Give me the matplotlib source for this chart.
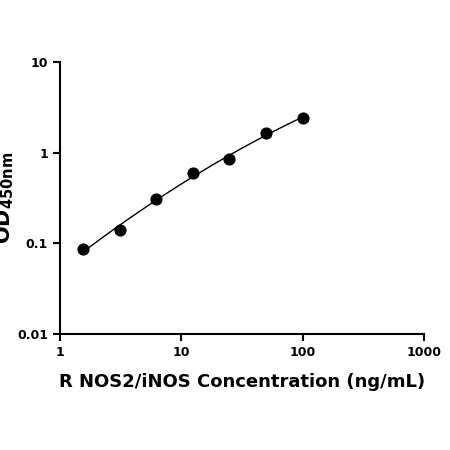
import numpy as np
import matplotlib
matplotlib.use("Agg")
import matplotlib.pyplot as plt

conc = [1.5625, 3.125, 6.25, 12.5, 25, 50, 100]
od = [0.086, 0.14, 0.31, 0.59, 0.86, 1.67, 2.4]
xticks = [1, 10, 100, 1000]
xticklabels = ["1", "10", "100", "1000"]
yticks = [0.01, 0.1, 1, 10]
yticklabels = ["0.01", "0.1", "1", "10"]

fig = plt.figure(figsize=(4.5, 4.5), dpi=100)
ax = fig.add_axes([0.133, 0.258, 0.809, 0.604])
lx, ly = np.log10(conc), np.log10(od)
coef = np.polyfit(lx, ly, 2)
xs = np.linspace(lx[0], lx[-1], 200)
ax.plot(10**xs, 10**np.polyval(coef, xs), color="black", lw=1)
ax.scatter(conc, od, s=60, color="black", zorder=3)
ax.set_xscale("log"); ax.set_yscale("log")
ax.set_xlim(1, 1000); ax.set_ylim(0.01, 10)
ax.set_xticks(xticks); ax.set_xticklabels(xticklabels)
ax.set_yticks(yticks); ax.set_yticklabels(yticklabels)
ax.minorticks_off()
for s in ["top", "right"]:
    ax.spines[s].set_visible(False)
for s in ["left", "bottom"]:
    ax.spines[s].set_linewidth(1.5)
ax.tick_params(width=1.5, length=5, labelsize=9)
for t in ax.get_xticklabels() + ax.get_yticklabels():
    t.set_fontweight("bold")
ax.set_xlabel("R NOS2/iNOS Concentration (ng/mL)", fontsize=13, fontweight="bold", labelpad=10)
ax.set_ylabel(r"OD$_{\mathbf{450nm}}$", fontsize=15, fontweight="bold")
ax.yaxis.set_label_coords(-0.12, 0.5)
fig.savefig("out.png", dpi=100)
